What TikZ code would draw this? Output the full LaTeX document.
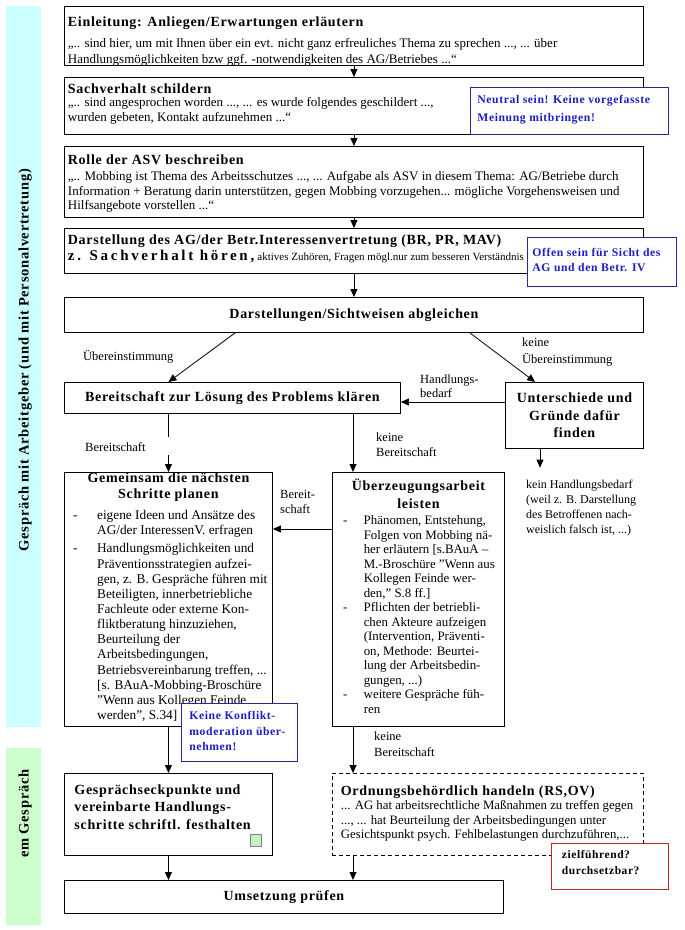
\documentclass[tikz,border=0pt]{standalone}
\usepackage{fontspec}
\setmainfont{Liberation Serif}
\newfontfamily\ttlfont{Liberation Serif}[LetterSpace=5]
\newfontfamily\widefont{Liberation Serif}[LetterSpace=18]
\usepackage{tikz}
\usetikzlibrary{arrows.meta,positioning,calc}

\definecolor{bandcyan}{RGB}{204,255,255}
\definecolor{bandgreen}{RGB}{204,255,204}
\definecolor{notetext}{RGB}{30,30,200}
\definecolor{noteline}{RGB}{40,40,150}
\definecolor{warnred}{RGB}{190,40,40}
\definecolor{iconfill}{RGB}{200,240,200}

\newcommand{\ttl}{\ttlfont\bfseries\fontsize{14}{16}\selectfont}
\newcommand{\bdy}{\fontsize{13}{15.4}\selectfont}
\newcommand{\notefont}{\ttlfont\bfseries}
\newcommand{\boxtxt}[3]{\parbox[c][#2][t]{#1}{#3}}
\newcommand{\itm}[2]{\makebox[#2][l]{\hspace*{#1}-}}
\newcommand{\ind}[1]{\hspace*{#1}}

\begin{document}
\begin{tikzpicture}[x=1pt, y=-1pt,
    >={Triangle[length=8pt,width=7pt]},
    block/.style={draw=black, line width=0.9pt, fill=white, anchor=north west, inner xsep=3.5pt, inner ysep=0pt},
    note/.style={draw=noteline, line width=0.8pt, fill=white, text=notetext, anchor=north west, inner ysep=0pt},
    warnbox/.style={draw=warnred, line width=0.8pt, fill=white, anchor=north west, inner ysep=0pt},
    annot/.style={anchor=base west, inner sep=0pt, align=left, font={\fontsize{12.5}{15}\selectfont}},
    arrow/.style={->, line width=0.8pt},
    band/.style={anchor=north west, inner sep=0pt}
]
    \useasboundingbox (0,0) rectangle (685,930);

    % Phase bands on the left
    \node[band, fill=bandcyan, minimum width=35pt, minimum height=721pt] (talkband) at (6,6) {};
    \node[rotate=90, font={\ttl\fontsize{14.5}{16}\selectfont}, inner sep=0pt] (talktext) at ($(talkband.center)+(1.5,-6.5)$) {Gespräch mit Arbeitgeber (und mit Personalvertretung)};
    \node[band, fill=bandgreen, minimum width=35pt, minimum height=177pt] (afterband) at (6,748) {};
    \node[rotate=90, font={\ttl\fontsize{14.5}{16}\selectfont}, inner sep=0pt] (aftertext) at ($(afterband.center)+(1.5,-23)$) {em Gespräch};

    % Main column
    \node[block] (einl) at (64,6) {\boxtxt{572pt}{59pt}{\bdy\rule{0pt}{20pt}{\ttl Einleitung: Anliegen/Erwartungen erläutern}\\[5.9pt]
        „.. sind hier, um mit Ihnen über ein evt. nicht ganz erfreuliches Thema zu sprechen ..., ... über\\
        Handlungsmöglichkeiten bzw ggf. -notwendigkeiten des AG/Betriebes ...“}};
    \node[block] (sach) at (64,77) {\boxtxt{572pt}{57pt}{\bdy\rule{0pt}{16.3pt}{\ttl Sachverhalt schildern}\\[-3pt]
        „.. sind angesprochen worden ..., ... es wurde folgendes geschildert ...,\\
        wurden gebeten, Kontakt aufzunehmen ...“}};
    \node[block] (rolle) at (64,146) {\boxtxt{572pt}{71pt}{\fontsize{13}{14.6}\selectfont\rule{0pt}{18.3pt}{\ttl Rolle der ASV beschreiben}\\[1.1pt]
        „.. Mobbing ist Thema des Arbeitsschutzes ..., ... Aufgabe als ASV in diesem Thema: AG/Betriebe durch\\
        Information + Beratung darin unterstützen, gegen Mobbing vorzugehen... mögliche Vorgehensweisen und\\
        Hilfsangebote vorstellen ...“}};
    \node[block] (darst) at (64,228) {\boxtxt{572pt}{45pt}{\bdy\rule{0pt}{16.5pt}{\ttl Darstellung des AG/der Betr.Interessenvertretung (BR, PR, MAV)}\\[0pt]
        {\widefont\bfseries\fontsize{15}{16}\selectfont z. Sachverhalt hören,} {\fontsize{11}{12}\selectfont aktives Zuhören, Fragen mögl.nur zum besseren Verständnis}}};
    \node[block, minimum width=579pt, minimum height=35pt, inner xsep=0pt, font=\ttl] (abgl) at (64,297) {Darstellungen/Sichtweisen abgleichen};

    % Branching
    \node[block, minimum width=336pt, minimum height=31pt, inner xsep=0pt, font=\ttl] (klaeren) at (64,382) {Bereitschaft zur Lösung des Problems klären};
    \node[block, minimum width=138pt, minimum height=66pt, inner xsep=0pt, align=center, font={\ttl\fontsize{14}{17.5}\selectfont}] (untersch) at (505,382) {Unterschiede und\\ Gründe dafür\\ finden};

    \node[block, inner xsep=2pt] (gemeinsam) at (64,472) {\boxtxt{204pt}{254pt}{%
        {\centering\ttl\rule{0pt}{10pt}Gemeinsam die nächsten\\ Schritte planen\par}
        \vspace{6pt}
        \fontsize{13.3}{15.15}\selectfont
        \itm{6.7pt}{30.7pt}eigene Ideen und Ansätze des\\
        \ind{30.7pt}AG/der InteressenV. erfragen\\[3pt]
        \itm{6.7pt}{30.7pt}Handlungsmöglichkeiten und\\
        \ind{30.7pt}Präventionsstrategien aufzei-\\
        \ind{30.7pt}gen, z. B. Gespräche führen mit\\
        \ind{30.7pt}Beteiligten, innerbetriebliche\\
        \ind{30.7pt}Fachleute oder externe Kon-\\
        \ind{30.7pt}fliktberatung hinzuziehen,\\
        \ind{30.7pt}Beurteilung der\\
        \ind{30.7pt}Arbeitsbedingungen,\\
        \ind{30.7pt}Betriebsvereinbarung treffen, ...\\
        \ind{30.7pt}[s. BAuA-Mobbing-Broschüre\\
        \ind{30.7pt}"Wenn aus Kollegen Feinde\\
        \ind{30.7pt}werden", S.34]}};
    \node[block, inner xsep=2pt] (ueberz) at (332,472) {\boxtxt{168pt}{254pt}{%
        {\centering\ttl\fontsize{14}{18.3}\selectfont\rule{0pt}{18pt}Überzeugungsarbeit\\ leisten\par}
        \vspace{1.2pt}
        \fontsize{12.9}{14.54}\selectfont
        \itm{8.7pt}{29.3pt}Phänomen, Entstehung,\\
        \ind{29.3pt}Folgen von Mobbing nä-\\
        \ind{29.3pt}her erläutern [s.BAuA –\\
        \ind{29.3pt}M.-Broschüre "Wenn aus\\
        \ind{29.3pt}Kollegen Feinde wer-\\
        \ind{29.3pt}den," S.8 ff.]\\
        \itm{8.7pt}{29.3pt}Pflichten der betriebli-\\
        \ind{29.3pt}chen Akteure aufzeigen\\
        \ind{29.3pt}(Intervention, Präventi-\\
        \ind{29.3pt}on, Methode: Beurtei-\\
        \ind{29.3pt}lung der Arbeitsbedin-\\
        \ind{29.3pt}gungen, ...)\\
        \itm{8.7pt}{29.3pt}weitere Gespräche füh-\\
        \ind{29.3pt}ren}};

    % After the talk
    \node[block, inner xsep=10pt] (gespr) at (64,773) {\boxtxt{188pt}{82pt}{\ttl\fontsize{14}{17.5}\selectfont\rule{0pt}{21pt}Gesprächseckpunkte und\\ vereinbarte Handlungs-\\ schritte schriftl. festhalten}};
    \node[block, dash pattern=on 4pt off 3pt, line width=0.8pt, inner xsep=8.5pt] (ordn) at (332,773) {\boxtxt{294pt}{82pt}{\fontsize{12.8}{14.75}\selectfont\rule{0pt}{22pt}{\ttl Ordnungsbehördlich handeln (RS,OV)}\\[-0.75pt]
        ... AG hat arbeitsrechtliche Maßnahmen zu treffen gegen\\
        ..., ... hat Beurteilung der Arbeitsbedingungen unter\\
        Gesichtspunkt psych. Fehlbelastungen durchzuführen,...}};
    \node[block, minimum width=439pt, minimum height=33pt, inner xsep=0pt, font=\ttl] (umsetz) at (64,880) {Umsetzung prüfen};
    \draw[draw=black!50, fill=iconfill, line width=0.5pt] ($(gespr.south east)+(-23,-10)$) rectangle ++(11,-12);

    % Hints
    \node[note, inner xsep=7pt] (neutral) at (470,87) {\boxtxt{184pt}{47pt}{\notefont\fontsize{11.7}{17.4}\selectfont\rule{0pt}{16.3pt}Neutral sein! Keine vorgefasste\\ Meinung mitbringen!}};
    \node[note, inner xsep=5pt] (offen) at (527,237) {\boxtxt{139pt}{49pt}{\notefont\fontsize{11.7}{14.7}\selectfont\rule{0pt}{19pt}Offen sein für Sicht des\\ AG und den Betr. IV}};
    \node[note, inner xsep=8pt] (keinemod) at (181,703) {\boxtxt{100pt}{58pt}{\notefont\fontsize{11.7}{15.7}\selectfont\rule{0pt}{16pt}Keine Konflikt-\\ moderation über-\\ nehmen!}};
    \node[warnbox, inner xsep=10.5pt] (ziel) at (551,843) {\boxtxt{96pt}{46pt}{\notefont\fontsize{11.5}{16}\selectfont\rule{0pt}{15pt}zielführend?\\ durchsetzbar?}};

    % Connector labels (base = last line)
    \node[annot] (lblsame) at (83,360) {Übereinstimmung};
    \node[annot, font={\fontsize{12.5}{16.6}\selectfont}] (lbldiff) at (522,363.3) {keine\\Übereinstimmung};
    \node[annot, font={\fontsize{12.5}{14}\selectfont}] (lblneed) at (420,397.3) {Handlungs-\\bedarf};
    \node[annot] (lblready) at (85,451.7) {Bereitschaft};
    \node[annot] (lblnotready) at (376,456.7) {keine\\Bereitschaft};
    \node[annot] (lblready2) at (280,513) {Bereit-\\schaft};
    \node[annot, font={\fontsize{12.5}{16.7}\selectfont}] (lblnotready2) at (374,756.7) {keine\\Bereitschaft};
    \node[annot, font={\fontsize{12}{15}\selectfont}] (khb) at (526,533.3) {kein Handlungsbedarf\\(weil z. B. Darstellung\\des Betroffenen nach-\\weislich falsch ist, ...)};

    % Flow arrows
    \draw[arrow] (einl) -- (sach);
    \draw[arrow] (sach) -- (rolle);
    \draw[arrow] (rolle) -- (darst);
    \draw[arrow] (darst) -- (abgl);
    \draw[arrow] ($(abgl.south west)!0.295!(abgl.south east)$) -- ($(klaeren.north west)!0.31!(klaeren.north east)$);
    \draw[arrow] ($(abgl.south west)!0.70!(abgl.south east)$) -- ($(untersch.north west)!0.217!(untersch.north east)$);
    \draw[arrow] ($(untersch.north west)+(0,20)$) -- ($(klaeren.north east)+(0,20)$);
    \draw[line width=0.8pt] (klaeren.south -| gemeinsam.north) -- ++(0,23);
    \draw[arrow] ($(gemeinsam.north)+(0,-17)$) -- (gemeinsam.north);
    \coordinate (kb) at ($(ueberz.north west)+(21,0)$);
    \draw[arrow] (klaeren.south -| kb) -- (kb);
    \coordinate (ta) at ($(khb.north west)+(14,-12)$);
    \draw[arrow] (untersch.south -| ta) -- (ta);
    \draw[arrow] ($(ueberz.north west)+(0,57)$) -- ($(gemeinsam.north east)+(0,57)$);
    \draw[arrow] (gemeinsam.south) -- (gemeinsam.south |- gespr.north);
    \draw[arrow] (ueberz.south -| kb) -- (ordn.north -| kb);
    \draw[arrow] (gespr.south) -- (gespr.south |- umsetz.north);
    \draw[arrow] (ordn.south -| kb) -- (umsetz.north -| kb);
\end{tikzpicture}
\end{document}
